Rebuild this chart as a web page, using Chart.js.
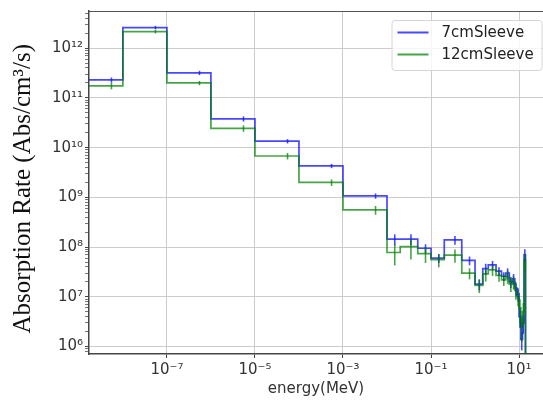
<!DOCTYPE html>
<html>
<head>
<meta charset="utf-8">
<script src="https://cdn.jsdelivr.net/npm/chart.js@4.4.1/dist/chart.umd.min.js"></script>
<style>
  html, body { margin: 0; padding: 0; background: #fff; }
  #wrap { width: 543px; height: 400px; }
</style>
</head>
<body>
<div id="wrap"><canvas id="absChart"></canvas></div>
<script>
// energy bin edges (MeV)
const edges = [1e-9, 1e-8, 1e-7, 1e-6, 1e-5, 1e-4, 1e-3, 1e-2, 0.02, 0.05, 0.1, 0.2, 0.5, 1.0, 1.5,
  2, 3, 4, 5, 6, 7, 8, 9, 10, 11, 12, 13, 14, 20]

// absorption rate per bin (Abs/cm3/s)
const sleeve7 = [2.3e11, 2.6e12, 3.2e11, 3.8e10, 1.35e10, 4.3e9, 1.07e9, 1.45e8, 1.45e8, 9.5e7, 6.0e7, 1.4e8, 5.4e7, 1.8e7,
  3.7e7, 4.4e7, 3.3e7, 2.6e7, 3.0e7, 2.0e7, 2.3e7, 1.5e7, 1.15e7, 4e6, 1.4e6, 3e6, 7e7, 1e4]
const sleeve12 = [1.75e11, 2.15e12, 2.0e11, 2.45e10, 6.8e9, 2.0e9, 5.6e8, 7.8e7, 1.02e8, 7.4e7, 5.6e7, 6.9e7, 3.0e7, 1.7e7,
  2.9e7, 3.5e7, 2.7e7, 2.2e7, 2.6e7, 1.8e7, 2.0e7, 1.35e7, 1.0e7, 6e6, 2.5e6, 5e6, 5.5e7, 1e4]

// relative errors per bin
const err7 = [0.12, 0.08, 0.1, 0.12, 0.1, 0.1, 0.12, 0.25, 0.25, 0.2, 0.2, 0.2, 0.2, 0.25,
  0.25, 0.2, 0.2, 0.2, 0.25, 0.25, 0.25, 0.3, 0.3, 0.4, 0.4, 0.4, 0.3, 0.5]
const err12 = [0.15, 0.08, 0.1, 0.15, 0.15, 0.15, 0.2, 0.45, 0.45, 0.35, 0.3, 0.3, 0.25, 0.3,
  0.3, 0.25, 0.25, 0.25, 0.3, 0.3, 0.3, 0.35, 0.35, 0.5, 0.5, 0.5, 0.35, 0.5]

const xTicks = [1e-7, 1e-5, 1e-3, 1e-1, 1e1]
const yTicks = [1e6, 1e7, 1e8, 1e9, 1e10, 1e11, 1e12]
const xLimits = [1.7e-9, 35]
const yLimits = [7.1e5, 5.6e12]

const BLUE = 'rgba(20, 20, 255, 0.78)'
const GREEN = 'rgba(0, 128, 0, 0.72)'

const SUP = { '-': '\u207B', '0': '\u2070', '1': '\u00B9', '2': '\u00B2', '3': '\u00B3', '4': '\u2074',
  '5': '\u2075', '6': '\u2076', '7': '\u2077', '8': '\u2078', '9': '\u2079' }

function pow10Label(v) {
  const e = Math.round(Math.log10(v))
  return '10' + String(e).split('').map(c => SUP[c]).join('')
}

function isDecade(v) {
  const l = Math.log10(v)
  return Math.abs(l - Math.round(l)) < 1e-6
}

// histogram outline: one point per left edge, plus the closing right edge
function stepPoints(vals) {
  const pts = vals.map((v, i) => ({ x: edges[i], y: v }))
  pts.push({ x: edges[edges.length - 1], y: vals[vals.length - 1] })
  return pts
}

const errorBars = {
  id: 'errorBars',
  afterDatasetsDraw(chart) {
    const { ctx, chartArea, scales } = chart
    ctx.save()
    ctx.beginPath()
    ctx.rect(chartArea.left, chartArea.top, chartArea.right - chartArea.left, chartArea.bottom - chartArea.top)
    ctx.clip()
    chart.data.datasets.forEach(ds => {
      ctx.strokeStyle = ds.borderColor
      ctx.lineWidth = 1.6
      ds.values.forEach((v, i) => {
        const mid = (edges[i] + edges[i + 1]) / 2
        const x = scales.x.getPixelForValue(mid)
        const y1 = scales.y.getPixelForValue(v * (1 - ds.errors[i]))
        const y2 = scales.y.getPixelForValue(v * (1 + ds.errors[i]))
        ctx.beginPath()
        ctx.moveTo(x, y1)
        ctx.lineTo(x, y2)
        ctx.stroke()
      })
    })
    ctx.restore()
  }
}

const frameAndLegend = {
  id: 'frameAndLegend',
  afterDraw(chart) {
    const { ctx, chartArea } = chart
    ctx.save()
    // top spine
    ctx.strokeStyle = '#555'
    ctx.lineWidth = 1.2
    ctx.beginPath()
    ctx.moveTo(chartArea.left, chartArea.top + 0.5)
    ctx.lineTo(chartArea.right, chartArea.top + 0.5)
    ctx.stroke()

    // legend box
    const w = 150, h = 50
    const bx = chartArea.right - 1.5 - w
    const by = chartArea.top + 9
    ctx.fillStyle = 'rgba(255, 255, 255, 0.8)'
    ctx.strokeStyle = '#d6d6d6'
    ctx.lineWidth = 1
    ctx.beginPath()
    ctx.roundRect(bx + 0.5, by + 0.5, w, h, 3)
    ctx.fill()
    ctx.stroke()

    ctx.font = '15px "DejaVu Sans"'
    ctx.textBaseline = 'middle'
    chart.data.datasets.forEach((ds, i) => {
      const ly = by + 12.5 + i * 22
      ctx.strokeStyle = ds.borderColor
      ctx.lineWidth = 2
      ctx.beginPath()
      ctx.moveTo(bx + 6, ly)
      ctx.lineTo(bx + 37, ly)
      ctx.stroke()
      ctx.fillStyle = '#222'
      ctx.fillText(ds.label, bx + 50, ly + 1)
    })
    ctx.restore()
  }
}

new Chart(document.getElementById('absChart'), {
  type: 'line',
  data: {
    datasets: [
      {
        label: '7cmSleeve',
        data: stepPoints(sleeve7),
        values: sleeve7,
        errors: err7,
        borderColor: BLUE,
        borderWidth: 1.7,
        stepped: true,
        pointRadius: 0,
        fill: false,
        clip: 0,
        order: 2
      },
      {
        label: '12cmSleeve',
        data: stepPoints(sleeve12),
        values: sleeve12,
        errors: err12,
        borderColor: GREEN,
        borderWidth: 1.7,
        stepped: true,
        pointRadius: 0,
        fill: false,
        clip: 0,
        order: 1
      }
    ]
  },
  options: {
    responsive: true,
    maintainAspectRatio: false,
    animation: false,
    layout: { padding: { top: 11, right: 0, left: 0, bottom: 0 } },
    plugins: {
      legend: { display: false },
      tooltip: { enabled: false }
    },
    scales: {
      x: {
        type: 'logarithmic',
        min: xLimits[0],
        max: xLimits[1],
        afterBuildTicks: scale => {
          scale.ticks = xTicks.map(v => ({ value: v }))
        },
        afterFit: scale => { scale.height = 46 },
        ticks: {
          autoSkip: false,
          maxRotation: 0,
          padding: 3,
          color: '#333',
          font: { family: 'DejaVu Sans', size: 15 },
          callback: v => pow10Label(v)
        },
        grid: {
          color: '#cccccc',
          lineWidth: 1,
          tickLength: 4,
          tickColor: '#444'
        },
        border: { color: '#444', width: 1.5 },
        title: {
          display: true,
          text: 'energy(MeV)',
          color: '#333',
          font: { family: 'DejaVu Sans', size: 15 },
          padding: { top: 0, bottom: 2 }
        }
      },
      y: {
        type: 'logarithmic',
        min: yLimits[0],
        max: yLimits[1],
        afterBuildTicks: scale => {
          const ticks = []
          const lowest = yTicks[0] / 10
          ;[lowest].concat(yTicks).forEach(major => {
            for (let m = 1; m <= 9; m++) {
              const v = m * major
              if (v >= yLimits[0] && v <= yLimits[1]) ticks.push({ value: v })
            }
          })
          scale.ticks = ticks
        },
        afterFit: scale => { scale.width = 89 },
        ticks: {
          autoSkip: false,
          padding: 2,
          color: '#333',
          font: { family: 'DejaVu Sans', size: 15 },
          callback: v => (isDecade(v) ? pow10Label(v) : '')
        },
        grid: {
          color: ctx => (ctx.tick && isDecade(ctx.tick.value) ? '#cccccc' : 'rgba(0,0,0,0)'),
          lineWidth: 1,
          tickLength: 4,
          tickColor: ctx => (ctx.tick && isDecade(ctx.tick.value) ? '#444' : '#777')
        },
        border: { color: '#444', width: 1.5 },
        title: {
          display: true,
          // trailing spaces nudge the rotated title down to where the reference has it
          text: 'Absorption Rate (Abs/cm\u00B3/s)  ',
          color: '#111',
          font: { family: 'Liberation Serif', size: 25 },
          padding: { top: 8, bottom: 0 }
        }
      }
    }
  },
  plugins: [errorBars, frameAndLegend]
})
</script>
</body>
</html>
